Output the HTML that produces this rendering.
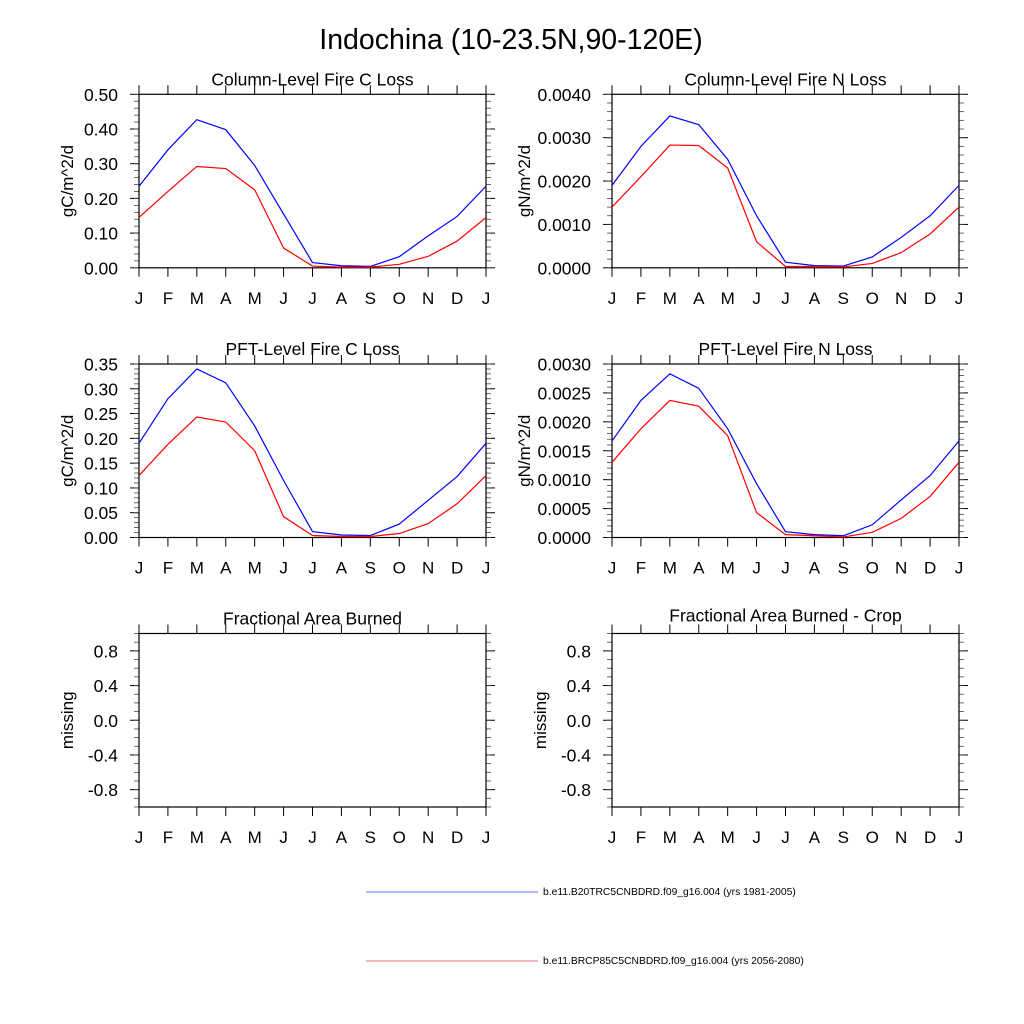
<!DOCTYPE html>
<html><head><meta charset="utf-8"><style>
html,body{margin:0;padding:0;background:#fff;}
svg{display:block;font-family:"Liberation Sans",sans-serif;}
</style></head><body>
<svg id="fig" width="1024" height="1024" viewBox="0 0 1024 1024">
<text x="511" y="49" font-size="28.5" text-anchor="middle">Indochina (10-23.5N,90-120E)</text>
<g id="panels"></g>
<line x1="366" y1="892" x2="538" y2="892" stroke="#6b6bff" stroke-width="1"/>
<text x="543" y="895" font-size="10.3">b.e11.B20TRC5CNBDRD.f09_g16.004 (yrs 1981-2005)</text>
<line x1="366" y1="961" x2="538" y2="961" stroke="#ff6b6b" stroke-width="1"/>
<text x="543" y="964" font-size="10.3">b.e11.BRCP85C5CNBDRD.f09_g16.004 (yrs 2056-2080)</text>
</svg>
<script>
const months = ["J","F","M","A","M","J","J","A","S","O","N","D","J"];
const colCBlue = [0.235,0.34,0.427,0.398,0.295,0.155,0.015,0.006,0.004,0.032,0.092,0.148,0.235];
const colCRed = [0.145,0.22,0.292,0.286,0.225,0.057,0.005,0.002,0.002,0.01,0.033,0.077,0.145];
const colNBlue = [0.0019,0.0028,0.0035,0.0033,0.0025,0.0012,0.00013,0.00005,0.00004,0.00025,0.0007,0.0012,0.0019];
const colNRed = [0.0014,0.0021,0.00283,0.00282,0.0023,0.0006,0.00003,0.00003,0.00002,0.0001,0.00035,0.00078,0.0014];
const pftCBlue = [0.19,0.28,0.34,0.312,0.225,0.115,0.012,0.005,0.004,0.027,0.075,0.123,0.19];
const pftCRed = [0.125,0.188,0.243,0.233,0.175,0.042,0.004,0.002,0.002,0.008,0.028,0.068,0.125];
const pftNBlue = [0.00167,0.00237,0.00283,0.00258,0.00188,0.00093,0.0001,0.00005,0.00003,0.00022,0.00065,0.00107,0.00167];
const pftNRed = [0.0013,0.00188,0.00237,0.00227,0.00176,0.00043,0.00005,0.00003,0.00001,0.00009,0.00033,0.00071,0.0013];
const ticksColC = ["0.00","0.10","0.20","0.30","0.40","0.50"];
const ticksColN = ["0.0000","0.0010","0.0020","0.0030","0.0040"];
const ticksPftC = ["0.00","0.05","0.10","0.15","0.20","0.25","0.30","0.35"];
const ticksPftN = ["0.0000","0.0005","0.0010","0.0015","0.0020","0.0025","0.0030"];
const ticksMissing = ["-0.8","-0.4","0.0","0.4","0.8"];

const NS="http://www.w3.org/2000/svg";
const root=document.getElementById('panels');
function mk(tag,attrs,parent){const e=document.createElementNS(NS,tag);for(const k in attrs)e.setAttribute(k,attrs[k]);(parent||root).appendChild(e);return e;}

function panel(o){
  const g=mk('g',{});
  
  
  const L=o.x,R=o.x+347,T=o.y,B=o.y+173.5;
  const xs=i=>L+(R-L)*i/12;
  const ys=v=>B-(B-T)*(v-o.ymin)/(o.ymax-o.ymin);
  const t=mk('text',{x:(L+R)/2,y:T-(o.tdy||9),'font-size':17.5,'text-anchor':'middle'},g);
  t.textContent=o.title;
  
  
  const yt=mk('text',{x:0,y:0,'font-size':17,'text-anchor':'middle',transform:`translate(${L-o.ytx},${(T+B)/2}) rotate(-90)`},g);
  yt.textContent=o.ylabel;
  
  
  for(let i=0;i<13;i++){
    mk('line',{x1:xs(i),y1:B,x2:xs(i),y2:B+9,stroke:'#000'},g);
    mk('line',{x1:xs(i),y1:T,x2:xs(i),y2:T-9,stroke:'#000'},g);
    const lb=mk('text',{x:xs(i),y:B+36,'font-size':17,'text-anchor':'middle'},g);
    lb.textContent=months[i];
    
    
  }
  const n=o.ticks.length;
  for(let k=0;k<n;k++){
    const v=parseFloat(o.ticks[k]);
    const y=ys(v);
    mk('line',{x1:L,y1:y,x2:L-9,y2:y,stroke:'#000'},g);
    mk('line',{x1:R,y1:y,x2:R+9,y2:y,stroke:'#000'},g);
    const lb=mk('text',{x:L-21,y:y+6.5,'font-size':17.5,'text-anchor':'end'},g);
    lb.textContent=o.ticks[k];
    
    
  }
  for(let k=0;k<=o.nminor;k++){
    const y=B-(B-T)*k/o.nminor;
    mk('line',{x1:L,y1:y,x2:L-5,y2:y,stroke:'#444','stroke-width':0.8},g);
    mk('line',{x1:R,y1:y,x2:R+5,y2:y,stroke:'#444','stroke-width':0.8},g);
  }
  mk('rect',{x:L,y:T,width:R-L,height:B-T,fill:'none',stroke:'#000','stroke-width':1.2},g);
  o.series.forEach(s=>{
    const p=mk('polyline',{points:s.data.map((v,i)=>xs(i)+','+ys(v)).join(' '),fill:'none',stroke:s.color,'stroke-width':1.2},g);
    
    
  });
}
panel({name:'column-fire-c-loss-panel',title:'Column-Level Fire C Loss',ylabel:'gC/m^2/d',ytx:66,x:139,y:94.3,ymin:0,ymax:0.5,ticks:ticksColC,nminor:25,
  series:[{data:colCBlue,color:'#0000ff',name:'series-historical'},{data:colCRed,color:'#ff0000',name:'series-future'}]});
panel({name:'column-fire-n-loss-panel',title:'Column-Level Fire N Loss',ylabel:'gN/m^2/d',ytx:82,x:612,y:94.3,ymin:0,ymax:0.004,ticks:ticksColN,nminor:20,
  series:[{data:colNBlue,color:'#0000ff',name:'series-historical'},{data:colNRed,color:'#ff0000',name:'series-future'}]});
panel({name:'pft-fire-c-loss-panel',title:'PFT-Level Fire C Loss',ylabel:'gC/m^2/d',ytx:66,x:139,y:364,ymin:0,ymax:0.35,ticks:ticksPftC,nminor:35,
  series:[{data:pftCBlue,color:'#0000ff',name:'series-historical'},{data:pftCRed,color:'#ff0000',name:'series-future'}]});
panel({name:'pft-fire-n-loss-panel',title:'PFT-Level Fire N Loss',ylabel:'gN/m^2/d',ytx:82,x:612,y:364,ymin:0,ymax:0.003,ticks:ticksPftN,nminor:30,
  series:[{data:pftNBlue,color:'#0000ff',name:'series-historical'},{data:pftNRed,color:'#ff0000',name:'series-future'}]});
panel({name:'fractional-area-burned-panel',title:'Fractional Area Burned',ylabel:'missing',ytx:66,x:139,y:633.5,ymin:-1,ymax:1,ticks:ticksMissing,nminor:20,series:[],tdy:9});
panel({name:'fractional-area-burned-crop-panel',title:'Fractional Area Burned - Crop',ylabel:'missing',ytx:66,x:612,y:633.5,ymin:-1,ymax:1,ticks:ticksMissing,nminor:20,series:[],tdy:12});
</script>
</body></html>
